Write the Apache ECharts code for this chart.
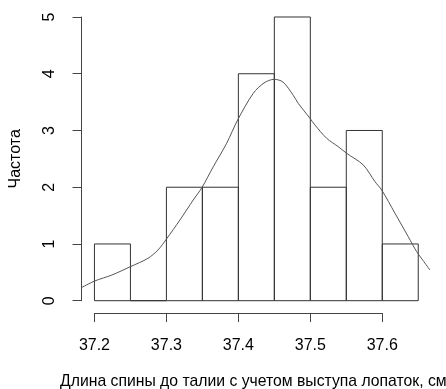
<!DOCTYPE html>
<html>
<head>
<meta charset="utf-8">
<script src="https://cdn.jsdelivr.net/npm/echarts@6/dist/echarts.min.js"></script>
<style>
html,body{margin:0;padding:0;background:#fff;}
#c{width:446px;height:389px;}
</style>
</head>
<body>
<div id="c"></div>
<script>
// ---- data ----
const breaks = [37.2, 37.25, 37.3, 37.35, 37.4, 37.45, 37.5, 37.55, 37.6, 37.65];
const counts = [1, 0, 2, 2, 4, 5, 2, 3, 1];
const densityX = [37.1817, 37.2003, 37.2243, 37.2498, 37.2744, 37.2883, 37.2998, 37.3188, 37.3373, 37.3494,
  37.3651, 37.3837, 37.399, 37.4207, 37.4356, 37.4495, 37.462, 37.4763, 37.4832, 37.4995,
  37.5064, 37.5227, 37.5389, 37.5505, 37.5736, 37.5899, 37.5992, 37.6177, 37.6361, 37.6478,
  37.6566, 37.6663];
const densityY = [0.229, 0.347, 0.453, 0.599, 0.747, 0.894, 1.082, 1.422, 1.775, 1.995,
  2.36, 2.774, 3.185, 3.655, 3.837, 3.902, 3.854, 3.62, 3.479, 3.215,
  3.097, 2.862, 2.714, 2.598, 2.392, 2.097, 1.951, 1.54, 1.128, 0.864,
  0.71, 0.541];
const xTicks = [37.2, 37.3, 37.4, 37.5, 37.6];
const yTicks = [0, 1, 2, 3, 4, 5];
const xTitle = 'Длина спины до талии с учетом выступа лопаток, см';
const yTitle = 'Частота';

// ---- layout ----
const plot = {left: 81.5, right: 431.2, top: 5.65, bottom: 312.05};
const xMin = breaks[0] - 0.04 * (breaks[breaks.length - 1] - breaks[0]);
const xMax = breaks[breaks.length - 1] + 0.04 * (breaks[breaks.length - 1] - breaks[0]);
const yTop = Math.max(...counts);
const yMin = -0.04 * yTop, yMax = yTop * 1.04;
const px = v => plot.left + (v - xMin) / (xMax - xMin) * (plot.right - plot.left);
const py = v => plot.bottom - (v - yMin) / (yMax - yMin) * (plot.bottom - plot.top);

const font = '"Liberation Sans", Arial, sans-serif';
const axisCol = '#444';

const histData = counts.map((c, i) => [breaks[i], breaks[i + 1], c]);
const curve = densityX.map((x, i) => [x, densityY[i]]);

const chart = echarts.init(document.getElementById('c'), null, {renderer: 'canvas'});
chart.setOption({
  animation: false,
  backgroundColor: '#fff',
  grid: [
    {left: plot.left, width: plot.right - plot.left, top: plot.top, height: plot.bottom - plot.top,
     outerBoundsMode: 'none', containLabel: false},
    {left: px(xTicks[0]), width: px(xTicks[xTicks.length - 1]) - px(xTicks[0]), top: plot.top, height: plot.bottom - plot.top + 1,
     outerBoundsMode: 'none', containLabel: false},
    {left: plot.left, width: 10, top: py(yTicks[yTicks.length - 1]), height: py(yTicks[0]) - py(yTicks[yTicks.length - 1]),
     outerBoundsMode: 'none', containLabel: false}
  ],
  xAxis: [
    {gridIndex: 0, type: 'value', min: xMin, max: xMax, axisLine: {show: false}, axisTick: {show: false},
     axisLabel: {show: false}, splitLine: {show: false},
     name: xTitle, nameLocation: 'middle', nameGap: 62,
     nameTextStyle: {fontFamily: font, fontSize: 15.75, color: '#000', padding: [0, 6, 0, 0]}},
    {gridIndex: 1, type: 'value', min: xTicks[0], max: xTicks[xTicks.length - 1], interval: 0.1,
     axisLine: {show: true, lineStyle: {color: axisCol, width: 1}},
     axisTick: {show: true, length: 9, lineStyle: {color: axisCol}},
     axisLabel: {show: true, margin: 25, fontFamily: font, fontSize: 16, color: '#000',
       formatter: v => v.toFixed(1)},
     splitLine: {show: false}},
    {gridIndex: 2, type: 'value', show: false}
  ],
  yAxis: [
    {gridIndex: 0, type: 'value', min: yMin, max: yMax, show: false, splitLine: {show: false}},
    {gridIndex: 1, type: 'value', show: false},
    {gridIndex: 2, type: 'value', min: yTicks[0], max: yTicks[yTicks.length - 1], interval: 1,
     axisLine: {show: true, lineStyle: {color: axisCol, width: 1}},
     axisTick: {show: true, length: 9, lineStyle: {color: axisCol}},
     axisLabel: {show: true, rotate: 90, margin: 24, fontFamily: font, fontSize: 16, color: '#000'},
     splitLine: {show: false},
     name: yTitle, nameLocation: 'middle', nameRotate: 90, nameGap: 58,
     nameTextStyle: {fontFamily: font, fontSize: 16, color: '#000'}}
  ],
  series: [
    {type: 'custom', xAxisIndex: 0, yAxisIndex: 0, data: histData,
     renderItem: (params, api) => {
       const p0 = api.coord([api.value(0), api.value(2)]);
       const p1 = api.coord([api.value(1), 0]);
       return {type: 'rect', shape: {x: p0[0], y: p0[1], width: p1[0] - p0[0], height: p1[1] - p0[1]},
         style: {fill: 'none', stroke: '#333', lineWidth: 1}};
     }},
    {type: 'line', xAxisIndex: 0, yAxisIndex: 0, data: curve, smooth: 0.3, showSymbol: false,
     lineStyle: {color: '#555', width: 1}}
  ]
});
</script>
</body>
</html>
